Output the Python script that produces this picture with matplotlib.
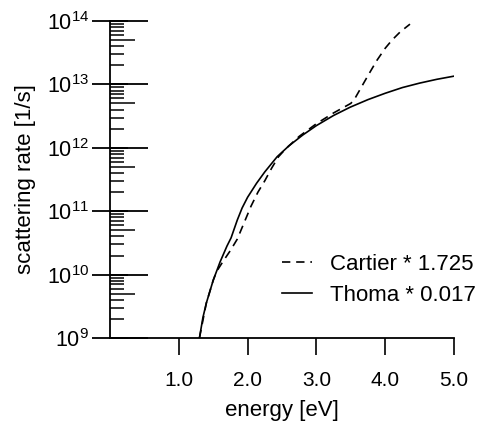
import matplotlib
matplotlib.use("Agg")
import matplotlib.pyplot as plt
import numpy as np
from matplotlib.ticker import FixedLocator, NullFormatter, LogFormatterMathtext

plt.rcParams['font.family'] = ['Liberation Sans', 'DejaVu Sans']
plt.rcParams['mathtext.fontset'] = 'custom'
plt.rcParams['mathtext.rm'] = 'Liberation Sans'

# Thoma * 0.017 (solid)
thoma_E = [1.30, 1.35, 1.40, 1.50, 1.60, 1.70, 1.76, 1.85, 1.92, 2.00, 2.13, 2.25, 2.43, 2.60, 2.80, 3.00, 3.25, 3.49, 3.75, 4.00, 4.25, 4.50, 4.75, 5.00]
thoma_log = [9.00, 9.32, 9.55, 9.91, 10.20, 10.45, 10.58, 10.86, 11.05, 11.22, 11.44, 11.62, 11.86, 12.03, 12.20, 12.35, 12.51, 12.64, 12.76, 12.86, 12.95, 13.02, 13.08, 13.13]

# Cartier * 1.725 (dashed)
cart_E = [1.30, 1.40, 1.50, 1.55, 1.65, 1.75, 1.85, 1.95, 2.05, 2.15, 2.25, 2.35, 2.45, 2.55, 2.75, 3.00, 3.25, 3.50, 3.55, 3.65, 3.75, 3.88, 4.00, 4.10, 4.22, 4.36]
cart_log = [9.00, 9.55, 9.91, 10.05, 10.22, 10.38, 10.56, 10.82, 11.08, 11.30, 11.48, 11.68, 11.86, 11.98, 12.18, 12.38, 12.55, 12.70, 12.76, 12.95, 13.14, 13.38, 13.57, 13.70, 13.83, 13.95]

labels = ["Cartier * 1.725", "Thoma * 0.017"]
xticks = [1.0, 2.0, 3.0, 4.0, 5.0]
xticklabels = ["1.0", "2.0", "3.0", "4.0", "5.0"]
decades = [1e9, 1e10, 1e11, 1e12, 1e13, 1e14]

fig = plt.figure(figsize=(4.95, 4.29), dpi=100)
ax = fig.add_axes([0.2222, 0.2121, 0.695, 0.739])

ax.plot(cart_E, 10 ** np.array(cart_log), color='black', lw=1.2,
        ls=(0, (5, 3.5)), label=labels[0])
ax.plot(thoma_E, 10 ** np.array(thoma_log), color='black', lw=1.2,
        label=labels[1])

ax.set_yscale('log')
ax.set_xlim(0, 5.0)
ax.set_ylim(1e9, 1e14)

for s in ['top', 'right']:
    ax.spines[s].set_visible(False)
for s in ['left', 'bottom']:
    ax.spines[s].set_linewidth(1.3)

ax.set_xticks(xticks)
ax.set_xticklabels(xticklabels)
ax.tick_params(axis='x', direction='out', length=12, width=1.2, pad=12, labelsize=15)

ax.yaxis.set_major_locator(FixedLocator(decades))
ax.yaxis.set_major_formatter(LogFormatterMathtext())
minors = [m * d for d in decades[:-1] for m in (2, 3, 4, 6, 7, 8, 9)]
ax.yaxis.set_minor_locator(FixedLocator(minors))
ax.yaxis.set_minor_formatter(NullFormatter())
ax.tick_params(axis='y', which='major', direction='inout', length=26, width=1.3,
               pad=2, labelsize=15.5)
ax.tick_params(axis='y', which='minor', direction='in', length=10, width=1.1)

sec = ax.secondary_yaxis('left')
sec.spines['left'].set_visible(False)
sec.yaxis.set_major_locator(FixedLocator(decades))
sec.yaxis.set_major_formatter(NullFormatter())
sec.yaxis.set_minor_locator(FixedLocator([5 * d for d in decades[:-1]]))
sec.yaxis.set_minor_formatter(NullFormatter())
sec.tick_params(axis='y', which='major', direction='in', length=27, width=1.3)
sec.tick_params(axis='y', which='minor', direction='in', length=18, width=1.1)

ax.set_xlabel("energy [eV]", fontsize=16, labelpad=7)
ax.set_ylabel("scattering rate [1/s]", fontsize=16, labelpad=8)

leg = ax.legend(loc='upper left', bbox_to_anchor=(282 / 495, 1 - 254 / 429),
                bbox_transform=fig.transFigure, frameon=False, fontsize=16,
                handlelength=1.35, handletextpad=0.8, labelspacing=0.45,
                borderpad=0, borderaxespad=0)

fig.savefig("out.png", dpi=100)
